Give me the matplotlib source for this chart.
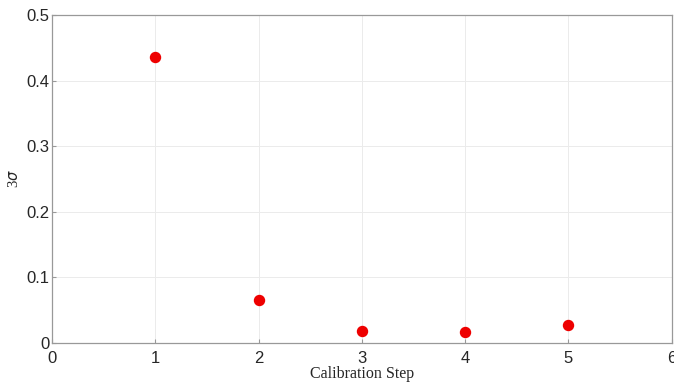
import matplotlib
matplotlib.use("Agg")
import matplotlib.pyplot as plt

# dados
etapas = [1, 2, 3, 4, 5]
sigma3 = [0.436, 0.065, 0.019, 0.017, 0.028]

x_ticks = [0, 1, 2, 3, 4, 5, 6]
y_ticks = [0, 0.1, 0.2, 0.3, 0.4, 0.5]
y_labels = ["0", "0.1", "0.2", "0.3", "0.4", "0.5"]

fig = plt.figure(figsize=(6.74, 3.89), dpi=100)
ax = fig.add_axes([52 / 674, 1 - 343 / 389, 619.5 / 674, 328 / 389])

ax.plot(etapas, sigma3, "o", color="#ee0000", markersize=7.2, zorder=3)

ax.set_xlim(0, 6)
ax.set_ylim(0, 0.5)
ax.set_xticks(x_ticks)
ax.set_yticks(y_ticks)
ax.set_yticklabels(y_labels)

ax.grid(True, color="#ebebeb", linewidth=0.7)
ax.set_axisbelow(True)

for lado in ["left", "bottom", "top", "right"]:
    ax.spines[lado].set_color("#999999")
    ax.spines[lado].set_linewidth(0.9)

ax.tick_params(direction="in", length=3, color="#999999", labelsize=12,
               labelcolor="#262626", pad=2)
ax.tick_params(axis="x", pad=6)
for lbl in ax.get_xticklabels() + ax.get_yticklabels():
    lbl.set_family("Liberation Sans")

ax.set_xlabel("Calibration Step", family="Liberation Serif", fontsize=11.5,
              color="#262626", labelpad=0)
ax.set_ylabel(r"3$\sigma$", family="Liberation Serif", fontsize=10.5,
              color="#262626", labelpad=4)

fig.savefig("out.png", dpi=100)
